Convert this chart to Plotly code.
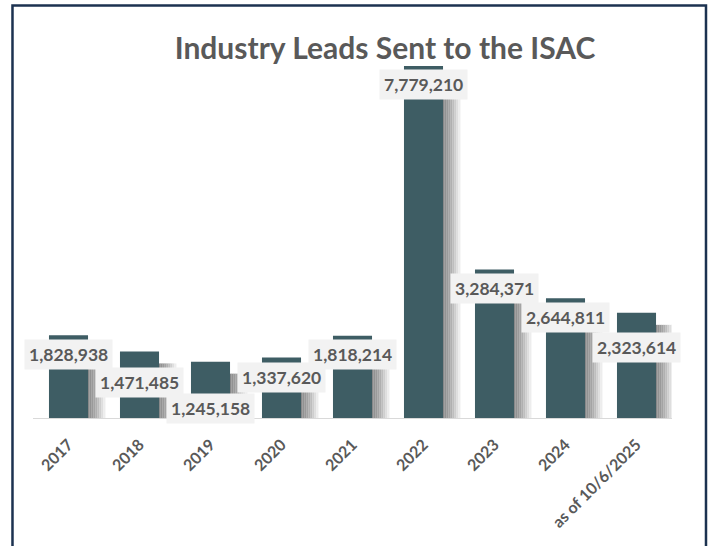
import plotly.graph_objects as go

# ---- data ----
categories = ["2017", "2018", "2019", "2020", "2021", "2022", "2023", "2024", "as of 10/6/2025"]
leads = [1828938, 1471485, 1245158, 1337620, 1818214, 7779210, 3284371, 2644811, 2323614]
title_text = "Industry Leads Sent to the ISAC"

# ---- styling ----
bar_color = "#3e5d64"
text_grey = "#595959"
label_bg = "#f2f2f2"
label_drop_px = [19, 31, 47, 20, 19, 19, 19, 19, 35]   # label centre below bar top (px)
shadow_colors = ["#8a8a8a", "#929292", "#9a9a9a", "#a4a4a4", "#b0b0b0", "#bebebe",
                 "#cecece", "#dedede", "#ededed"]
bar_w = 0.55
slice_w = 0.028
y_max = 8_000_000
plot_h_px = 362
shadow_drop = 12 * y_max / plot_h_px   # shadow starts ~12px below bar top

W, H = 712, 546

fig = go.Figure()

# soft drop shadow to the right of each bar (several grey slices)
for i, col in enumerate(shadow_colors):
    fig.add_trace(go.Bar(
        x=categories,
        y=[max(v - shadow_drop, 0) for v in leads],
        offset=bar_w / 2 - 0.01 + i * slice_w,
        width=slice_w + 0.003,
        marker=dict(color=col, line=dict(width=0)),
        hoverinfo="skip",
        showlegend=False,
    ))

# main bars
fig.add_trace(go.Bar(
    x=categories,
    y=leads,
    width=bar_w,
    marker=dict(color=bar_color, line=dict(width=0)),
    showlegend=False,
))

# data labels with light boxes
for i, (v, drop) in enumerate(zip(leads, label_drop_px)):
    fig.add_annotation(
        x=i, y=v, xref="x", yref="y",
        text=f"{v:,}",
        showarrow=False,
        yanchor="middle",
        yshift=-drop,
        bgcolor=label_bg,
        borderpad=4,
        font=dict(family="Lato", size=17.5, color=text_grey, weight="bold"),
    )

# frame around the chart (left, top, right)
fig.add_shape(
    type="path",
    xref="paper", yref="paper",
    path="M -0.0321,-0.5 L -0.0321,1.1395 L 1.0532,1.1395 L 1.0532,-0.5",
    line=dict(color="#1c3250", width=2.5),
    layer="above",
)

fig.update_layout(
    width=W, height=H,
    margin=dict(l=33, r=40, t=56, b=128, autoexpand=False),
    paper_bgcolor="white",
    plot_bgcolor="white",
    barmode="overlay",
    title=dict(
        text=title_text,
        x=385 / W, xanchor="center",
        y=1 - 48 / H, yanchor="middle",
        font=dict(family="Lato", size=30, color=text_grey, weight="bold"),
    ),
    xaxis=dict(
        type="category",
        automargin=False,
        showline=True, linecolor="#d9d9d9", linewidth=1,
        ticks="", showgrid=False,
        tickangle=-45,
        ticklabelstandoff=10,
        tickfont=dict(family="Lato", size=16, color=text_grey, weight="bold"),
        range=[-0.5, len(categories) - 0.5],
    ),
    yaxis=dict(visible=False, range=[0, y_max], showgrid=False, automargin=False),
)

fig.write_html(
    "out.html",
    config={"displayModeBar": False},
    post_script="document.body.style.margin='0';document.body.style.overflow='hidden';",
)
